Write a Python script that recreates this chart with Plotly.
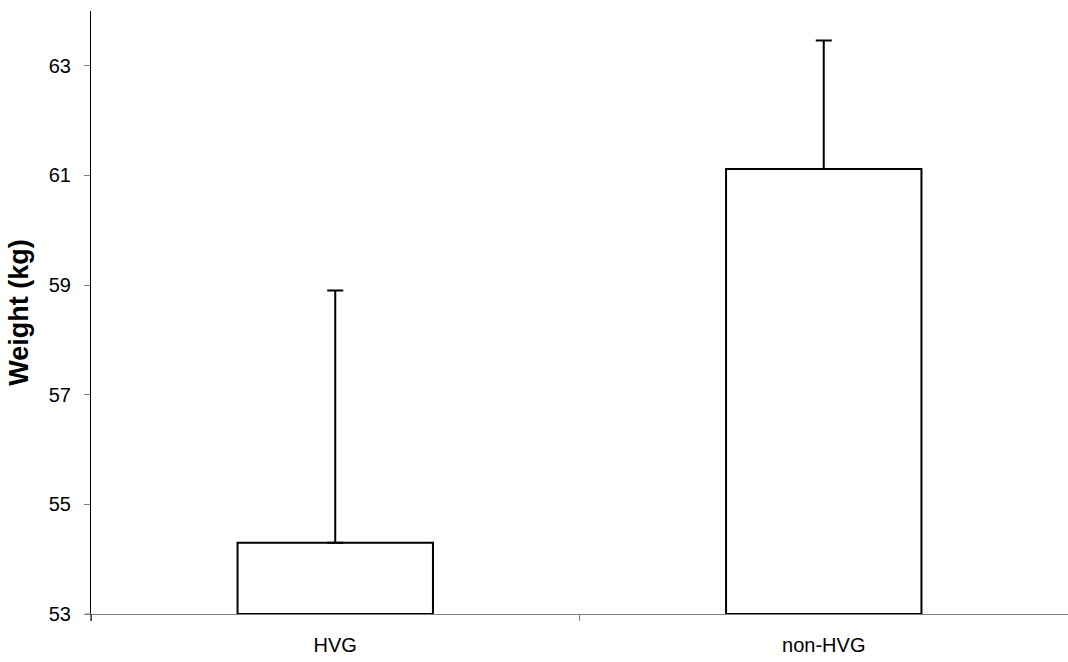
import plotly.graph_objects as go

categories = ["HVG", "non-HVG"]
weights = [54.3, 61.12]
sd_plus = [4.6, 2.34]
y_base = 53
y_max = 64
y_ticks = [53, 55, 57, 59, 61, 63]

fig = go.Figure()
fig.add_trace(go.Bar(
    x=categories,
    y=[w - y_base for w in weights],
    base=y_base,
    width=0.4,
    marker=dict(color="white", line=dict(color="black", width=2)),
    error_y=dict(type="data", symmetric=False, array=sd_plus,
                 arrayminus=[0] * len(sd_plus),
                 color="black", thickness=2, width=8),
    showlegend=False,
))

font_family = "Arial, Liberation Sans, sans-serif"
fig.update_layout(
    width=1068, height=662,
    margin=dict(l=91, r=0, t=11, b=48, pad=0),
    plot_bgcolor="white", paper_bgcolor="white",
    font=dict(family=font_family, size=20, color="black"),
    bargap=0.6,
)
fig.update_xaxes(
    range=[-0.5, 1.5],
    showline=True, linecolor="#808080", linewidth=1,
    ticks="outside", tickson="boundaries", ticklen=6, tickcolor="#808080",
    showgrid=False, zeroline=False,
    tickfont=dict(size=20),
    ticklabelstandoff=13,
)
fig.update_yaxes(
    range=[y_base, y_max],
    tickvals=y_ticks,
    showline=True, linecolor="black", linewidth=1,
    ticks="outside", ticklen=6, tickcolor="#808080",
    showgrid=False, zeroline=False,
    tickfont=dict(size=20),
    ticklabelstandoff=9,
    title=dict(text="<b>Weight (kg)</b>", font=dict(size=27), standoff=12),
)
# extension of the y-axis line below the x-axis (Excel style)
fig.add_shape(type="line", xref="paper", yref="paper",
              x0=0, x1=0, y0=0, y1=-7 / 603,
              line=dict(color="black", width=1))
# gray horizontal line at the bottom tick
fig.add_shape(type="line", xref="paper", yref="paper",
              x0=-6 / 977, x1=0, y0=0, y1=0,
              line=dict(color="#808080", width=1))

fig.write_html("out.html")
